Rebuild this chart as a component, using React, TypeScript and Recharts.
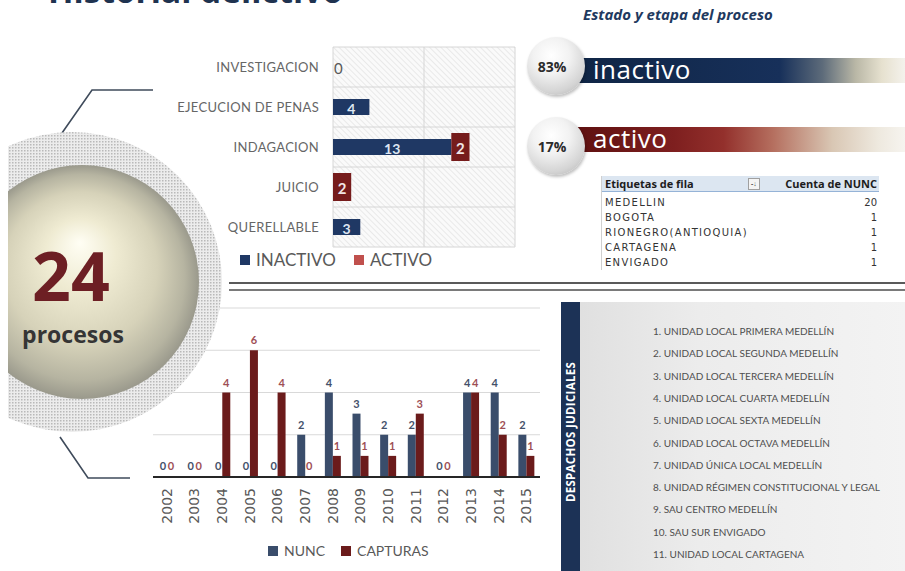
import { Bar, BarChart, CartesianGrid, Cell, LabelList, Legend, XAxis, YAxis } from 'recharts'

const stages = ['INVESTIGACION', 'EJECUCION DE PENAS', 'INDAGACION', 'JUICIO', 'QUERELLABLE']
const inactivo = [0, 4, 13, 0, 3]
const activo = [0, 0, 2, 2, 0]

const years = ['2002', '2003', '2004', '2005', '2006', '2007', '2008', '2009', '2010', '2011', '2012', '2013', '2014', '2015']
const nunc = [0, 0, 0, 0, 0, 2, 4, 3, 2, 2, 0, 4, 4, 2]
const capturas = [0, 0, 4, 6, 4, 0, 1, 1, 1, 3, 0, 4, 2, 1]

const estadoLabels = ['inactivo', 'activo']
const estadoPct = [83, 17]

const ciudades = ['MEDELLIN', 'BOGOTA', 'RIONEGRO(ANTIOQUIA)', 'CARTAGENA', 'ENVIGADO']
const cuentas = [20, 1, 1, 1, 1]

const despachos = [
  '1. UNIDAD LOCAL PRIMERA MEDELLÍN',
  '2. UNIDAD LOCAL SEGUNDA MEDELLÍN',
  '3. UNIDAD LOCAL TERCERA MEDELLÍN',
  '4. UNIDAD LOCAL CUARTA MEDELLÍN',
  '5. UNIDAD LOCAL SEXTA MEDELLÍN',
  '6. UNIDAD LOCAL OCTAVA MEDELLÍN',
  '7. UNIDAD ÚNICA LOCAL MEDELLÍN',
  '8. UNIDAD RÉGIMEN CONSTITUCIONAL Y LEGAL',
  '9. SAU CENTRO MEDELLÍN',
  '10. SAU SUR ENVIGADO',
  '11. UNIDAD LOCAL CARTAGENA',
]

const NAVY = '#1f3864'
const RED = '#761c1c'
const NUNC_C = '#3a4d6b'
const CAPT_C = '#6b1b1b'
const SANS = 'Lato, "Open Sans", sans-serif'

const stageData = stages.map((s, i) => ({ stage: s, inactivo: inactivo[i], activo: activo[i] }))
const yearData = years.map((y, i) => ({ year: y, nunc: nunc[i], capturas: capturas[i] }))

const boxOf = (p: any) => p.viewBox ?? p

const InactivoLabel = (p: any) => {
  const { x, y, width, height } = boxOf(p)
  const v = Number(p.value)
  if (v === 0) {
    if (activo[p.index] > 0) return null
    return (
      <text x={x + 1} y={y + height / 2 + 1} dominantBaseline='central' fontSize={15} fill='#595959' fontFamily={SANS}>
        0
      </text>
    )
  }
  return (
    <text x={x + width / 2} y={y + height / 2 + 1} textAnchor='middle' dominantBaseline='central' fontSize={14} fontWeight={700} fill='#dde6f2' fontFamily={SANS}>
      {v}
    </text>
  )
}

const ActivoLabel = (p: any) => {
  const { x, y, width, height } = boxOf(p)
  if (!Number(p.value)) return null
  return (
    <text x={x + width / 2} y={y + height / 2 + 1} textAnchor='middle' dominantBaseline='central' fontSize={15} fontWeight={700} fill='#f0e6e6' fontFamily={SANS}>
      {p.value}
    </text>
  )
}

const TallBar = (p: any) => {
  if (!p.width || p.width <= 0) return null
  return <rect x={p.x} y={p.y - 6} width={p.width} height={p.height + 12} fill={p.fill} />
}

const YearTick = ({ x, y, payload }: any) => (
  <text x={x} y={y + 3} transform={`rotate(-90, ${x}, ${y + 3})`} textAnchor='end' dominantBaseline='central' fontSize={14} fill='#595959' fontFamily='"DejaVu Sans", sans-serif'>
    {payload.value}
  </text>
)

const legendRow = (items: { label: string; color: string }[], size: number, gap: number) => (
  <div style={{ display: 'flex', alignItems: 'center', gap, fontFamily: SANS, fontSize: size, color: '#595959', whiteSpace: 'nowrap' }}>
    {items.map((it) => (
      <span key={it.label} style={{ display: 'flex', alignItems: 'center', gap: 6 }}>
        <span style={{ width: 10, height: 10, background: it.color, display: 'inline-block' }} />
        {it.label}
      </span>
    ))}
  </div>
)

function StageChart() {
  return (
    <BarChart width={370} height={235} layout='vertical' data={stageData} margin={{ top: 7, right: 5, bottom: 28, left: 0 }} barSize={16}>
      <CartesianGrid
        fill='url(#hatch)'
        stroke='#d6d6d6'
        horizontalCoordinatesGenerator={({ offset }: any) =>
          [...stages.map((_, i) => offset.top + (i * offset.height) / stages.length), offset.top + offset.height]
        }
      />
      <XAxis type='number' domain={[0, 20]} ticks={[0, 10, 20]} hide />
      <YAxis
        type='category'
        dataKey='stage'
        width={183}
        tickLine={false}
        axisLine={false}
        tick={{ fontSize: 13, fill: '#666666', fontFamily: SANS, letterSpacing: 0.3, dx: -6 }}
      />
      <Bar dataKey='inactivo' stackId='s' fill={NAVY} minPointSize={1} isAnimationActive={false}>
        {inactivo.map((v, i) => (
          <Cell key={i} fill={v === 0 ? 'transparent' : NAVY} />
        ))}
        <LabelList dataKey='inactivo' content={InactivoLabel} />
      </Bar>
      <Bar dataKey='activo' stackId='s' fill={RED} shape={TallBar} isAnimationActive={false}>
        <LabelList dataKey='activo' content={ActivoLabel} />
      </Bar>
      <Legend
        layout='horizontal'
        verticalAlign='middle'
        align='center'
        wrapperStyle={{ top: 209, left: 90, width: 'auto' }}
        content={() => legendRow([{ label: 'INACTIVO', color: NAVY }, { label: 'ACTIVO', color: '#c0504d' }], 17, 18)}
      />
    </BarChart>
  )
}

function YearChart() {
  return (
    <BarChart width={400} height={270} data={yearData} margin={{ top: 13, right: 5, bottom: 28, left: 8 }} barSize={8} barGap={0}>
      <CartesianGrid vertical={false} stroke='#d9d9d9' />
      <XAxis dataKey='year' interval={0} tickLine={false} axisLine={{ stroke: '#262626', strokeWidth: 2 }} height={60} tick={YearTick} />
      <YAxis domain={[0, 8]} ticks={[0, 2, 4, 6, 8]} hide />
      <Bar dataKey='nunc' fill={NUNC_C} minPointSize={1} isAnimationActive={false}>
        {nunc.map((v, i) => (
          <Cell key={i} fill={v === 0 ? 'transparent' : NUNC_C} />
        ))}
        <LabelList dataKey='nunc' position='top' offset={6} fill='#44516a' fontSize={11} fontWeight={700} fontFamily={SANS} />
      </Bar>
      <Bar dataKey='capturas' fill={CAPT_C} minPointSize={1} isAnimationActive={false}>
        {capturas.map((v, i) => (
          <Cell key={i} fill={v === 0 ? 'transparent' : CAPT_C} />
        ))}
        <LabelList dataKey='capturas' position='top' offset={6} fill='#9e4f55' fontSize={11} fontWeight={700} fontFamily={SANS} />
      </Bar>
      <Legend
        layout='horizontal'
        verticalAlign='middle'
        align='center'
        wrapperStyle={{ top: 247, left: 123, width: 'auto' }}
        content={() => legendRow([{ label: 'NUNC', color: NUNC_C }, { label: 'CAPTURAS', color: CAPT_C }], 14, 16)}
      />
    </BarChart>
  )
}

function EstadoBar({ i }: { i: number }) {
  const top = i === 0 ? 58 : 127
  const cy = i === 0 ? 66 : 146
  return (
    <>
      <div
        style={{
          position: 'absolute',
          left: 575,
          top,
          width: 330,
          height: 25,
          background:
            i === 0
              ? 'linear-gradient(90deg, #0f2545 0%, #17305a 62%, #5d6b7a 75%, #b9b7a6 85%, #e6e1cf 93%, #f4f2ec 100%)'
              : 'linear-gradient(90deg, #5e1010 0%, #7e1f1f 30%, #93302c 45%, #b56f5f 60%, #d9c7b4 78%, #eee9df 92%, #f6f4ef 100%)',
        }}
      />
      <div style={{ position: 'absolute', left: 593, top: top - 7, fontFamily: '"Open Sans", sans-serif', fontSize: 26, color: '#ffffff', letterSpacing: 0.5 }}>
        {estadoLabels[i]}
      </div>
      <div
        style={{
          position: 'absolute',
          left: 556 - 29,
          top: cy - 29,
          width: 58,
          height: 58,
          borderRadius: '50%',
          background: 'radial-gradient(circle at 42% 32%, #ffffff 0%, #f2f2f2 35%, #d4d4d4 70%, #a9a9a9 100%)',
          boxShadow: '1px 2px 3px rgba(0,0,0,0.25)',
          display: 'flex',
          alignItems: 'center',
          justifyContent: 'center',
        }}
      >
        <span style={{ fontFamily: '"Open Sans", sans-serif', fontWeight: 700, fontSize: 14, color: '#2b2b2b', marginLeft: -8 }}>{estadoPct[i]}%</span>
      </div>
    </>
  )
}

export default function App() {
  return (
    <div style={{ position: 'relative', width: 905, height: 571, overflow: 'hidden', background: '#ffffff' }}>
      <style>{'body{margin:0}'}</style>
      <svg width={0} height={0} style={{ position: 'absolute' }}>
        <defs>
          <pattern id='hatch' width={4} height={4} patternUnits='userSpaceOnUse' patternTransform='rotate(-45)'>
            <rect width={4} height={4} fill='#fafafa' />
            <line x1={0} y1={0} x2={0} y2={4} stroke='#dedede' strokeWidth={1.2} />
          </pattern>
        </defs>
      </svg>

      <div style={{ position: 'absolute', left: 150, top: 40 }}>
        <StageChart />
      </div>
      <div style={{ position: 'absolute', left: 145, top: 295 }}>
        <YearChart />
      </div>

      {/* separator */}
      <div style={{ position: 'absolute', left: 229, top: 282, width: 676, height: 2, background: '#5a5a5a' }} />
      <div style={{ position: 'absolute', left: 229, top: 289, width: 676, height: 1.5, background: '#7a7a7a' }} />

      {/* right top */}
      <div style={{ position: 'absolute', left: 583, top: 4, fontFamily: '"Open Sans", sans-serif', fontStyle: 'italic', fontWeight: 700, fontSize: 15, color: '#1f3a60' }}>
        Estado y etapa del proceso
      </div>
      <EstadoBar i={0} />
      <EstadoBar i={1} />

      <div style={{ position: 'absolute', left: 601, top: 176, width: 277, fontFamily: '"DejaVu Sans", sans-serif', borderLeft: '1px solid #d0d0d0' }}>
        <div style={{ height: 15, background: '#dce6f1', borderBottom: '1px solid #95b3d7', display: 'flex', alignItems: 'center', fontFamily: '"Open Sans", sans-serif', fontWeight: 700, fontSize: 11, color: '#1c1c1c' }}>
          <span style={{ marginLeft: 3, width: 143 }}>Etiquetas de fila</span>
          <span style={{ width: 10, height: 10, border: '1px solid #a0a0a0', background: '#f4f4f4', fontSize: 7, lineHeight: '10px', textAlign: 'center', color: '#555' }}>-↓</span>
          <span style={{ flex: 1, textAlign: 'right', marginRight: 2 }}>Cuenta de NUNC</span>
        </div>
        {ciudades.map((c, i) => (
          <div key={c} style={{ height: 15, display: 'flex', alignItems: 'center', fontSize: 10, color: '#333333', letterSpacing: 1.3, marginTop: i === 0 ? 3 : 0 }}>
            <span style={{ marginLeft: 3, flex: 1 }}>{c}</span>
            <span style={{ marginRight: 2, letterSpacing: 0 }}>{cuentas[i]}</span>
          </div>
        ))}
      </div>

      {/* despachos panel */}
      <div style={{ position: 'absolute', left: 561, top: 302, width: 344, height: 269, background: 'linear-gradient(90deg, #dedede 0%, #ececec 40%, #f3f3f3 100%)' }} />
      <div style={{ position: 'absolute', left: 561, top: 302, width: 19, height: 269, background: '#1c3256' }} />
      <div
        style={{
          position: 'absolute',
          left: 570,
          top: 432,
          transform: 'translate(-50%, -50%) rotate(-90deg)',
          fontFamily: '"Open Sans", sans-serif',
          fontWeight: 700,
          fontSize: 11.5,
          color: '#ffffff',
          whiteSpace: 'nowrap',
          letterSpacing: 0.3,
        }}
      >
        DESPACHOS JUDICIALES
      </div>
      {despachos.map((d, i) => (
        <div key={d} style={{ position: 'absolute', left: 653, top: 332 + i * 22.3 - 7, fontFamily: SANS, fontSize: 10, color: '#4f4f4f', whiteSpace: 'nowrap', lineHeight: '13px' }}>
          {d}
        </div>
      ))}

      {/* left decoration */}
      <svg width={360} height={571} style={{ position: 'absolute', left: 0, top: 0, pointerEvents: 'none' }}>
        <defs>
          <pattern id='dots' width={3} height={3} patternUnits='userSpaceOnUse'>
            <rect width={3} height={3} fill='#ececec' />
            <rect width={1.5} height={1.5} fill='#b9b9b9' />
          </pattern>
          <radialGradient id='sphere' cx='0.5' cy='0.5' r='0.5' fx='0.49' fy='0.33'>
            <stop offset='0%' stopColor='#fffef4' />
            <stop offset='30%' stopColor='#efebd2' />
            <stop offset='65%' stopColor='#d6d2b9' />
            <stop offset='88%' stopColor='#b6b4a1' />
            <stop offset='100%' stopColor='#9a998c' />
          </radialGradient>
          <clipPath id='leftclip'>
            <rect x={8} y={0} width={352} height={571} />
          </clipPath>
        </defs>
        <text x={48} y={3} textLength={295} lengthAdjust='spacingAndGlyphs' fontFamily='"Open Sans", sans-serif' fontWeight={700} fontSize={34} fill='#1f3350'>
          Historial delictivo
        </text>
        <path d='M62 133 L92 90 L153 90' fill='none' stroke='#3f4b5b' strokeWidth={1.6} />
        <path d='M60 437 L88 478 L130 478' fill='none' stroke='#3f4b5b' strokeWidth={1.6} />
        <g clipPath='url(#leftclip)'>
          <circle cx={72} cy={282} r={150} fill='url(#dots)' />
          <circle cx={82} cy={282} r={117} fill='url(#sphere)' />
        </g>
        <text x={71} y={301} textAnchor='middle' fontFamily='"Open Sans", sans-serif' fontWeight={700} fontSize={68} fill='#6d1f24'>
          24
        </text>
        <text x={73} y={343} textAnchor='middle' fontFamily='"Open Sans", sans-serif' fontWeight={700} fontSize={23} fill='#353535'>
          procesos
        </text>
      </svg>
    </div>
  )
}
